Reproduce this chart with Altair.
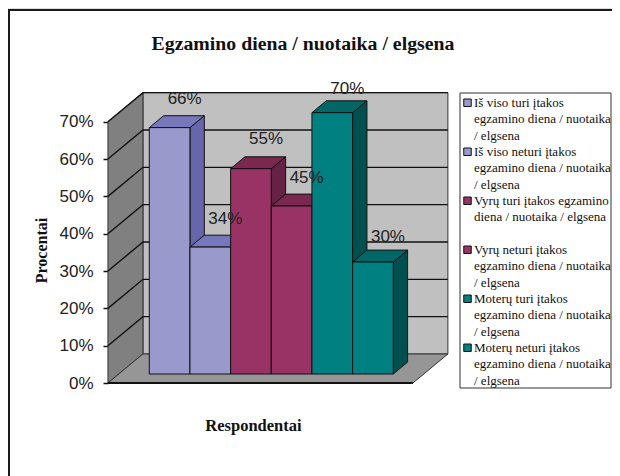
import altair as alt
import pandas as pd

# ---- values ----
series = [
    "\u00a0Iš viso turi įtakos\negzamino diena / nuotaika\n/ elgsena",
    "Iš viso neturi įtakos\negzamino diena / nuotaika\n/ elgsena",
    "Vyrų turi įtakos egzamino\ndiena / nuotaika / elgsena\n ",
    "Vyrų neturi įtakos\negzamino diena / nuotaika\n/ elgsena",
    "Moterų turi įtakos\negzamino diena / nuotaika\n/ elgsena",
    "Moterų neturi įtakos\negzamino diena / nuotaika\n/ elgsena",
]
values = [66, 34, 55, 45, 70, 30]
ticks = [0, 10, 20, 30, 40, 50, 60, 70]
front_colors = ["#9999CC", "#9999CC", "#993366", "#993366", "#008080", "#008080"]
top_colors = ["#7777BB", "#7777BB", "#7A2850", "#7A2850", "#006666", "#006666"]
side_colors = ["#6666AA", "#6666AA", "#662244", "#662244", "#005050", "#005050"]
label_lift = [10.0, 9.8, 10.3, 9.8, 8.7, 9.2]

W, H = 604, 468
SERIF = "Liberation Serif"
SANS = "Liberation Sans"

# oblique projection of (slot, percent, depth)
DX, DY = 0.861, 7.77
ZF, ZB = 0.31, 0.72
SLOT_MIN, SLOT_MAX = -0.75, 6.75
TOP = 70


def u(slot, z):
    return slot + (z - ZF) * DX


def v(pct, z):
    return pct + z * DY


xs = alt.Scale(domain=[-3.475, 11.38], nice=False, zero=False)
ys = alt.Scale(domain=[-24.91, 100.45], nice=False, zero=False)
x_axis = alt.Axis(
    title="Respondentai", labels=False, ticks=False, domain=False, grid=False,
    titleFont=SERIF, titleFontSize=16.5, titleFontWeight="bold", titleColor="#111111",
    titleX=245, titleY=-51, titleBaseline="middle", titleAlign="center")
y_axis = alt.Axis(
    title="Procentai", values=ticks, labelExpr="datum.value + '%'", offset=-100,
    domain=False, grid=False, tickColor="#111111", tickSize=5, tickWidth=1.5,
    labelFont=SANS, labelFontSize=17, labelColor="#222222", labelPadding=10,
    titleFont=SERIF, titleFontSize=16, titleFontWeight="bold", titleColor="#111111",
    titleX=-67, titleY=242, titleAlign="center", titleBaseline="middle")
X = alt.X("x:Q", scale=xs, axis=x_axis)
X2 = alt.X2("x2")
Y = alt.Y("y:Q", scale=ys, axis=y_axis)
Y2 = alt.Y2("y2")
WALL_EDGE = "#333333"

layers = []

# back wall
back = pd.DataFrame([{"x": u(SLOT_MIN, 1), "x2": u(SLOT_MAX, 1), "y": v(0, 1), "y2": v(TOP, 1)}])
layers.append(
    alt.Chart(back).mark_rect(fill="#C0C0C0", stroke=WALL_EDGE, strokeWidth=1).encode(x=X, x2=X2, y=Y, y2=Y2)
)

# left wall
left = pd.DataFrame([
    {"x": u(SLOT_MIN, z), "y": v(0, z), "y2": v(TOP, z)} for z in (0, 1)
])
layers.append(
    alt.Chart(left).mark_area(fill="#808080", stroke=WALL_EDGE, strokeWidth=1, opacity=1).encode(x=X, y=Y, y2=Y2)
)

# floor
floor = pd.DataFrame([
    {"y": v(0, z), "x": u(SLOT_MIN, z), "x2": u(SLOT_MAX, z)} for z in (0, 1)
])
layers.append(
    alt.Chart(floor).mark_area(orient="horizontal", fill="#969696", stroke=WALL_EDGE, strokeWidth=1, opacity=1).encode(x=X, x2=X2, y=Y)
)

# gridlines on both walls
grid_rows = []
for t in ticks[1:]:
    for sl, z in ((SLOT_MIN, 0), (SLOT_MIN, 1), (SLOT_MAX, 1)):
        grid_rows.append({"tick": t, "x": u(sl, z), "y": v(t, z), "o": len(grid_rows)})
layers.append(
    alt.Chart(pd.DataFrame(grid_rows)).mark_line(color="#111111", strokeWidth=1.4).encode(
        x=X, y=Y, detail="tick:N", order="o:Q")
)

# front edge of the floor
edge = pd.DataFrame([{"x": u(SLOT_MIN, 0), "x2": u(SLOT_MAX, 0), "y": v(0, 0)}])
layers.append(alt.Chart(edge).mark_rule(color="#111111", strokeWidth=2).encode(x=X, x2=X2, y=Y))

# bars, drawn left to right so nearer faces cover
color_scale = alt.Scale(domain=series, range=front_colors)
legend = alt.Legend(
    orient="none", legendX=448, legendY=86, title=None, columns=1,
    symbolType="square", symbolSize=56, symbolStrokeColor="#111111",
    symbolStrokeWidth=1, symbolOpacity=1, clipHeight=17.5, rowPadding=0,
    labelFont=SERIF, labelFontSize=13, labelColor="#111111", labelLimit=400,
    labelExpr="split(datum.label, '\\n')", labelOffset=0, labelBaseline="middle",
    symbolOffset=5, padding=0,
)
for i, val in enumerate(values):
    side = pd.DataFrame([
        {"x": u(i + 1, z), "y": v(0, z), "y2": v(val, z)} for z in (ZF, ZB)
    ])
    top = pd.DataFrame([
        {"y": v(val, z), "x": u(i, z), "x2": u(i + 1, z)} for z in (ZF, ZB)
    ])
    front = pd.DataFrame([{
        "series": series[i], "x": u(i, ZF), "x2": u(i + 1, ZF), "y": v(0, ZF), "y2": v(val, ZF)
    }])
    layers.append(alt.Chart(side).mark_area(fill=side_colors[i], stroke="#111111", strokeWidth=1, opacity=1).encode(x=X, y=Y, y2=Y2))
    layers.append(alt.Chart(top).mark_area(orient="horizontal", fill=top_colors[i], stroke="#111111", strokeWidth=1, opacity=1).encode(x=X, x2=X2, y=Y))
    layers.append(alt.Chart(front).mark_rect(stroke="#111111", strokeWidth=1, opacity=1).encode(
        x=X, x2=X2, y=Y, y2=Y2,
        color=alt.Color("series:N", scale=color_scale, legend=legend, sort=None)))

# value labels
labels = pd.DataFrame({
    "x": [i + 0.87 for i in range(len(values))],
    "y": [val + lift for val, lift in zip(values, label_lift)],
    "text": [f"{val}%" for val in values],
})
layers.append(
    alt.Chart(labels).mark_text(font=SANS, fontSize=17, color="#222222", align="center", baseline="middle").encode(
        x=X, y=Y, text="text:N")
)

# legend box
layers.append(alt.Chart(back).mark_rect(fill="white", stroke="#333333", strokeWidth=1).encode(
    x=alt.value(452), x2=alt.value(603), y=alt.value(85), y2=alt.value(380)))

# picture frame: only its top and left edges are visible
layers.append(alt.Chart(back).mark_rule(color="#1A1A1A", strokeWidth=2).encode(
    x=alt.value(0), x2=alt.value(W), y=alt.value(2)))
layers.append(alt.Chart(back).mark_rule(color="#1A1A1A", strokeWidth=2).encode(
    x=alt.value(1), y=alt.value(1), y2=alt.value(H)))

chart = alt.LayerChart(layer=layers).properties(
    width=W, height=H, padding=0, autosize="none",
    background="white",
    title=alt.TitleParams(
        "Egzamino diena / nuotaika / elgsena", font=SERIF, fontSize=19.8, fontWeight="bold",
        color="#111111", anchor="middle", frame="group", dx=-7, dy=56, baseline="middle", offset=0),
).configure_view(stroke=None).configure(style={"guide-label": {"lineHeight": 16.4}})

chart.save("out.html", embed_options={"renderer": "svg", "actions": False})
